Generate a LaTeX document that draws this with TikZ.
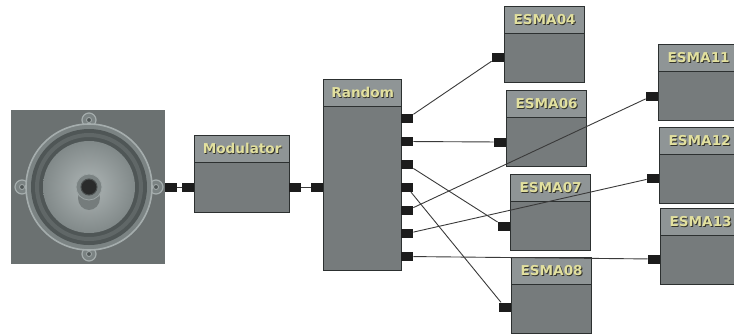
\documentclass[tikz,border=0pt]{standalone}
\usepackage{fontspec}
\setmainfont{DejaVu Sans}
\usepackage{xcolor}
\usetikzlibrary{shapes,positioning}
\definecolor{boxbody}{HTML}{767B7C}
\definecolor{boxhead}{HTML}{8F9596}
\definecolor{boxline}{HTML}{2C3030}
\definecolor{lbltext}{HTML}{E2E09E}
\definecolor{lblshade}{HTML}{33332A}
\definecolor{portblk}{HTML}{1C1C1C}
\definecolor{wiregray}{HTML}{3A3A3A}
\definecolor{spkback}{HTML}{6B7171}
\definecolor{spkrim}{HTML}{7B8383}
\definecolor{spkedge}{HTML}{A5ADAD}
\definecolor{spkdark}{HTML}{4F5656}

% label with a small drop shadow
\newcommand{\lbl}[1]{\makebox[0pt][l]{\kern0.8pt\raisebox{-0.8pt}{\color{lblshade}#1}}{\color{lbltext}#1}}

\begin{document}
\begin{tikzpicture}[x=1pt, y=-1pt,
	body/.style={rectangle, draw=boxline, line width=1.3pt, fill=boxbody, inner sep=0pt},
	head/.style={rectangle, draw=boxline, line width=1.3pt, fill=boxhead, inner sep=0pt, minimum height=27pt, font=\bfseries\fontsize{13.6}{15}\selectfont},
	port/.style={rectangle, fill=portblk, inner sep=0pt, minimum width=12pt, minimum height=9pt},
	wire/.style={draw=wiregray, line width=0.9pt}]
	\useasboundingbox (0,0) rectangle (734,333);
	\clip (0,0) rectangle (734,333);

	% speaker
	\node[rectangle, fill=spkback, minimum size=154pt, inner sep=0pt] (spk) at (88,187) {};
	\begin{scope}[shift={(89,187)}]
		\foreach \a in {0,90,180,270}
			\filldraw[fill=spkrim, draw=spkedge, line width=1.2pt] (\a:67) circle[radius=7pt];
		\filldraw[fill=spkrim, draw=spkedge, line width=1.6pt] (0,0) circle[radius=63pt];
		\foreach \a in {0,90,180,270}
			\filldraw[fill=spkdark, draw=spkedge, line width=0.8pt] (\a:67) circle[radius=2.5pt];
		\fill[spkdark] (0,0) circle[radius=58pt];
		\draw[color=spkdark!80!spkedge, line width=4pt] (0,0) circle[radius=52pt];
		\shade[inner color=spkedge!90!white, outer color=spkrim!85!spkedge] (0,0) circle[radius=46pt];
		\fill[spkrim!95!black] (0,11) ellipse[x radius=11pt, y radius=12pt];
		\filldraw[fill=spkrim, draw=spkedge!80!spkrim, line width=0.8pt] (0,0) circle[radius=13pt];
		\filldraw[fill=portblk!85!spkrim, draw=spkrim!60!black, line width=1pt] (0,0) circle[radius=8pt];
	\end{scope}
	\node[port, anchor=west] (spk-out) at (165,187) {};

	% modulator
	\node[body, anchor=north west, minimum width=95pt, minimum height=77pt] (mod) at (194,135) {};
	\node[head, anchor=north west, minimum width=95pt] (mod-head) at (mod.north west) {\lbl{Modulator}};
	\node[port, anchor=east] (mod-in) at (194,187) {};
	\node[port, anchor=west] (mod-out) at (289,187) {};

	% random
	\node[body, anchor=north west, minimum width=78pt, minimum height=191pt] (rnd) at (323,79) {};
	\node[head, anchor=north west, minimum width=78pt] (rnd-head) at (rnd.north west) {\lbl{Random}};
	\node[port, anchor=east] (rnd-in) at (323,187) {};
	\foreach \i in {1,...,7}
		\node[port, anchor=west] (rnd\i) at (401,95.5+23*\i) {};

	% esma targets: name/x/y/port y
	\foreach \n/\x/\y/\p in {04/504/6/57, 06/506/90/142, 07/510/174/226, 08/511/257/307, 11/658/44/96, 12/659/127/178, 13/660/208/259} {
		\node[body, anchor=north west, minimum width=80pt, minimum height=76pt] (esma\n) at (\x,\y) {};
		\node[head, anchor=north west, minimum width=80pt] (esma\n-head) at (esma\n.north west) {\lbl{ESMA\n}};
		\node[port, anchor=east] (esma\n-in) at (\x,\p) {};
	}

	\draw[wire] (spk-out) -- (mod-in);
	\draw[wire] (mod-out) -- (rnd-in);
	\foreach \a/\b in {1/04, 2/06, 3/07, 4/08, 5/11, 6/12, 7/13}
		\draw[wire] (rnd\a) -- (esma\b-in);
\end{tikzpicture}
\end{document}
